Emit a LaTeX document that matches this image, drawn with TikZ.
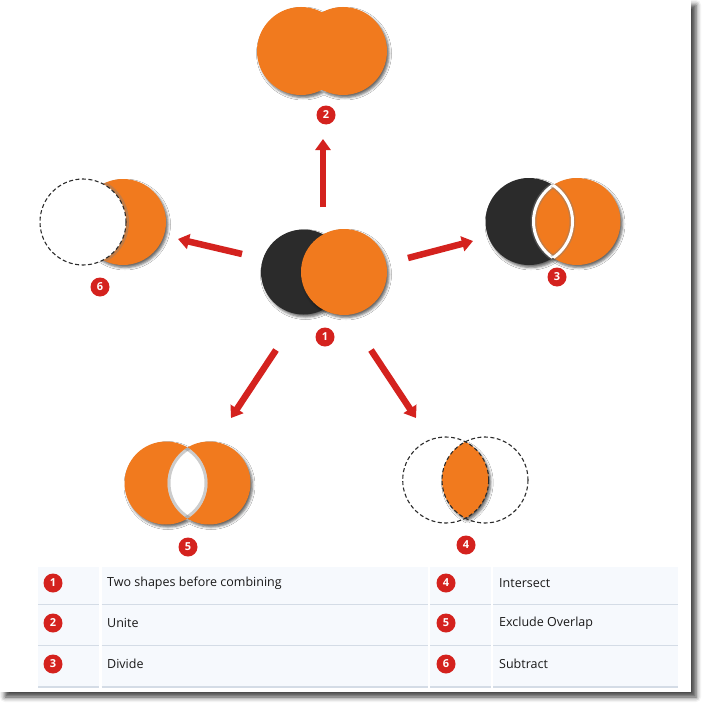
\documentclass[tikz,border=0pt]{standalone}
\usepackage{fontspec}
\setmainfont{Open Sans}
\usetikzlibrary{arrows.meta,shadows.blur}
\definecolor{org}{RGB}{241,122,30}
\definecolor{drk}{RGB}{43,43,43}
\definecolor{rd}{RGB}{212,34,30}
\definecolor{cellbg}{RGB}{246,249,253}
\definecolor{cellline}{RGB}{212,220,230}
\definecolor{txt}{RGB}{25,25,25}
\begin{document}
\begin{tikzpicture}[x=1pt,y=-1pt,
 badge/.style={circle,fill=rd,inner sep=0pt,minimum size=19pt,text=white,font=\bfseries\fontsize{11}{11}\selectfont},
 arr/.style={draw=rd,line width=6.5pt,-{Triangle[width=15pt,length=11pt]}},
 dcirc/.style={draw=drk,dash pattern=on 4pt off 2.5pt,line width=1.1pt},
 shd/.style={blur shadow={shadow xshift=2pt,shadow yshift=-2.5pt,shadow blur radius=2.5pt,shadow opacity=60}},
 glow/.style={draw=gray,line width=6pt,opacity=.4},
 cell/.style={fill=cellbg},
 sep/.style={draw=cellline,line width=1.3pt},
 lbl/.style={anchor=west,text=txt,font=\fontsize{12.5}{14}\selectfont,inner sep=0pt}
]
\useasboundingbox (0,0) rectangle (707,709);
% card
\fill[white, blur shadow={shadow xshift=5pt,shadow yshift=-5pt,shadow blur radius=5pt,shadow opacity=75}] (0,0) rectangle (691,692);

% ---- 1: two shapes
\fill[drk, shd] (303.5,272) circle (42.5);
\fill[org, shd] (344,272) circle (43);
\node[badge] (b1) at (325,337) {1};

% ---- 2: unite
\fill[org, shd] (301,51) circle (44) (343,51) circle (44);
\node[badge] (b2) at (326,115) {2};

% ---- 3: divide
\fill[drk, shd] (529,221.5) circle (43.5);
\fill[org, shd] (577,221.5) circle (43.5);
\begin{scope}
 \clip (529,221.5) circle (43.5);
 \draw[glow] (577,221.5) circle (43.5);
 \draw[white,line width=3pt] (577,221.5) circle (43.5);
\end{scope}
\begin{scope}
 \clip (577,221.5) circle (43.5);
 \draw[glow] (529,221.5) circle (43.5);
 \draw[white,line width=3pt] (529,221.5) circle (43.5);
\end{scope}
\node[badge] (b3) at (557,277) {3};

% ---- 6: subtract
\fill[org, shd] (123,222) circle (43);
\begin{scope}
 \clip (123,222) circle (43);
 \draw[glow] (83,222) circle (43);
\end{scope}
\fill[white] (83,222) circle (43);
\draw[dcirc] (83,222) circle (43);
\node[badge] (b6) at (100,287) {6};

% ---- 5: exclude overlap
\fill[org, shd] (166,483) circle (41.5) (209,483) circle (41.5);
\begin{scope}
 \clip (166,483) circle (41.5);
 \fill[white] (209,483) circle (41.5);
 \clip (209,483) circle (41.5);
 \draw[glow] (166,483) circle (41.5);
 \draw[glow] (209,483) circle (41.5);
\end{scope}
\node[badge] (b5) at (188,547) {5};

% ---- 4: intersect
\fill[org, shd] (445.7,480) ++(-62.8:43) arc[start angle=-62.8,end angle=62.8,radius=43]
  arc[start angle=117.2,end angle=242.8,radius=43] -- cycle;
\draw[dcirc] (445.7,480) circle (43);
\draw[dcirc] (485,480) circle (43);
\node[badge] (b4) at (466,545) {4};

% ---- arrows
\coordinate (u1) at (323,207); \coordinate (u2) at (323,139);
\coordinate (w1) at (242,254); \coordinate (w2) at (178,239);
\coordinate (e1) at (408,258); \coordinate (e2) at (473,241);
\coordinate (sw1) at (276,350); \coordinate (sw2) at (231,418);
\coordinate (se1) at (371,350); \coordinate (se2) at (416,418);
\draw[arr] (u1) -- (u2);
\draw[arr] (w1) -- (w2);
\draw[arr] (e1) -- (e2);
\draw[arr] (sw1) -- (sw2);
\draw[arr] (se1) -- (se2);

% ---- table
\foreach \ya/\yb in {567/605,605/646,646/687}{
  \fill[cell] (38,\ya) rectangle (99,\yb);
  \fill[cell] (101.5,\ya) rectangle (428,\yb);
  \fill[cell] (430,\ya) rectangle (491,\yb);
  \fill[cell] (493,\ya) rectangle (678,\yb);
  \draw[sep] (38,\yb) -- (99,\yb);
  \draw[sep] (101.5,\yb) -- (428,\yb);
  \draw[sep] (430,\yb) -- (491,\yb);
  \draw[sep] (493,\yb) -- (678,\yb);
}
\node[badge] (tb1) at (53,583) {1};
\node[badge] (tb2) at (53,623) {2};
\node[badge] (tb3) at (53,664) {3};
\node[badge] (tb4) at (446,583) {4};
\node[badge] (tb5) at (446,623) {5};
\node[badge] (tb6) at (446,664) {6};
\node[lbl] (tl1) at (107,583) {Two shapes before combining};
\node[lbl] (tl2) at (107,623) {Unite};
\node[lbl] (tl3) at (107,664) {Divide};
\node[lbl] (tl4) at (499,583) {Intersect};
\node[lbl] (tl5) at (499,623) {Exclude Overlap};
\node[lbl] (tl6) at (499,664) {Subtract};
\end{tikzpicture}
\end{document}
